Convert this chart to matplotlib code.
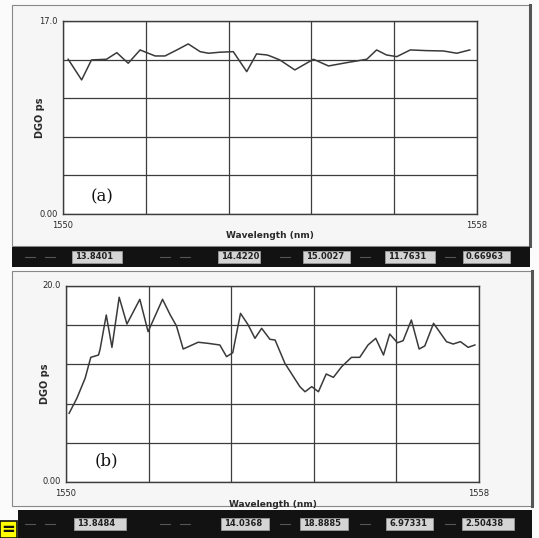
import matplotlib.pyplot as plt
import matplotlib.patches as mpatches
import numpy as np

# --- Data ---
wl_a = [1550.10, 1550.36, 1550.55, 1550.84, 1551.04, 1551.26, 1551.49, 1551.62,
        1551.78, 1551.97, 1552.20, 1552.42, 1552.65, 1552.81, 1553.03, 1553.29,
        1553.55, 1553.74, 1553.94, 1554.00, 1554.19, 1554.48, 1554.84, 1555.13,
        1555.48, 1555.87, 1556.06, 1556.25, 1556.45, 1556.71, 1557.03, 1557.35,
        1557.61, 1557.86]
dgd_a = [13.63, 11.81, 13.57, 13.63, 14.21, 13.28, 14.45, 14.21,
         13.92, 13.92, 14.45, 14.98, 14.30, 14.16, 14.25, 14.30,
         12.54, 14.10, 14.01, 13.92, 13.57, 12.69, 13.63, 13.04,
         13.33, 13.63, 14.45, 14.01, 13.86, 14.45, 14.39, 14.36,
         14.16, 14.45]

wl_b = [1550.06, 1550.21, 1550.37, 1550.48, 1550.63, 1550.66, 1550.78, 1550.89,
        1551.03, 1551.18, 1551.43, 1551.59, 1551.87, 1552.02, 1552.14, 1552.27,
        1552.56, 1552.75, 1552.98, 1553.11, 1553.23, 1553.38, 1553.53, 1553.66,
        1553.79, 1553.95, 1554.05, 1554.24, 1554.53, 1554.63, 1554.76, 1554.89,
        1555.04, 1555.18, 1555.34, 1555.53, 1555.69, 1555.85, 1556.00, 1556.15,
        1556.27, 1556.42, 1556.53, 1556.69, 1556.84, 1556.95, 1557.12, 1557.37,
        1557.50, 1557.64, 1557.79, 1557.92]
dgd_b = [7.01, 8.54, 10.58, 12.72, 12.96, 13.54, 17.04, 13.74,
         18.85, 16.12, 18.64, 15.34, 18.64, 17.04, 15.92, 13.57,
         14.26, 14.15, 13.98, 12.79, 13.19, 17.21, 16.02, 14.66,
         15.68, 14.56, 14.49, 12.11, 9.73, 9.21, 9.73, 9.21,
         11.02, 10.68, 11.77, 12.72, 12.72, 13.98, 14.66, 12.96,
         15.10, 14.21, 14.42, 16.53, 13.57, 13.88, 16.19, 14.32,
         14.08, 14.32, 13.74, 13.98]

ymax_a, ymax_b = 17.0, 20.0
ylabels_a = ['17.0', '0.00']
ylabels_b = ['20.0', '0.00']
xlabels = ['1550', '1558']
stats_a = ['13.8401', '14.4220', '15.0027', '11.7631', '0.66963']
stats_b = ['13.8484', '14.0368', '18.8885', '6.97331', '2.50438']

W, H = 539, 538


def px(l, t, r, b):
    return [l / W, 1 - b / H, (r - l) / W, (b - t) / H]


fig = plt.figure(figsize=(W / 100, H / 100), dpi=100)
fig.patch.set_facecolor('#fbfbfb')

ink = '#2a2a2a'


def frame(l, t, r, b):
    fig.patches.append(mpatches.Rectangle((l / W, 1 - b / H), (r - l) / W, (b - t) / H,
                                          transform=fig.transFigure, facecolor='#f6f6f6',
                                          edgecolor='#888888', lw=0.8, zorder=-5))
    # thick right edge
    fig.add_artist(plt.Line2D([r / W, r / W], [1 - b / H, 1 - t / H],
                              transform=fig.transFigure, color='#555555', lw=2.2, zorder=-4))


def status_bar(l, t, r, b, values, boxes):
    fig.patches.append(mpatches.Rectangle((l / W, 1 - b / H), (r - l) / W, (b - t) / H,
                                          transform=fig.transFigure, facecolor='#121212',
                                          edgecolor='none', zorder=1))
    yc = (t + b) / 2
    for (bl, br), v in zip(boxes, values):
        fig.patches.append(mpatches.Rectangle((bl / W, 1 - (yc + 6) / H), (br - bl) / W, 12 / H,
                                              transform=fig.transFigure, facecolor='#d4d4d4',
                                              edgecolor='#9a9a9a', lw=0.6, zorder=2))
        fig.text((bl + 3) / W, 1 - yc / H, v, fontsize=6, fontweight='bold', color='#202020',
                 va='center', ha='left', zorder=3)
    # faint icons/labels between boxes
    for x0 in [25, 45, 160, 180, 280, 360, 445]:
        fig.add_artist(plt.Line2D([x0 / W, (x0 + 10) / W], [1 - yc / H, 1 - yc / H],
                                  transform=fig.transFigure, color='#555555', lw=0.8, zorder=2))


def panel(rect, wl, dgd, ymax, ylabels, tag, tag_xy, ylab_x):
    ax = fig.add_axes(px(*rect))
    ax.set_zorder(2)
    ax.set_facecolor('#ffffff')
    ax.plot(wl, dgd, color='#3a3a3a', lw=1.1, zorder=3)
    ax.set_xlim(1550, 1558)
    ax.set_ylim(0, ymax)
    ax.set_xticks(np.linspace(1550, 1558, 6))
    ax.set_yticks(np.linspace(0, ymax, 6))
    ax.grid(True, color='#3c3c3c', lw=0.9)
    ax.tick_params(length=0, labelbottom=False, labelleft=False)
    for s in ax.spines.values():
        s.set_color('#3c3c3c')
        s.set_linewidth(1.0)
    ax.text(-0.012, 1.0, ylabels[0], transform=ax.transAxes, ha='right', va='center',
            fontsize=6, color=ink)
    ax.text(-0.012, 0.0, ylabels[1], transform=ax.transAxes, ha='right', va='center',
            fontsize=6, color=ink)
    ax.text(0.0, -0.035, xlabels[0], transform=ax.transAxes, ha='center', va='top',
            fontsize=6, color=ink)
    ax.text(1.0, -0.035, xlabels[1], transform=ax.transAxes, ha='center', va='top',
            fontsize=6, color=ink)
    ax.text(0.5, -0.09, 'Wavelength (nm)', transform=ax.transAxes, ha='center', va='top',
            fontsize=6.5, fontweight='bold', color=ink)
    ax.text(ylab_x, 0.5, 'DGO ps', transform=ax.transAxes, ha='center', va='center',
            rotation=90, fontsize=7, fontweight='bold', color=ink)
    ax.text(tag_xy[0], tag_xy[1], tag, transform=ax.transAxes, ha='center', va='center',
            fontsize=12, family='DejaVu Serif', color='#111111')
    return ax


# panel (a)
frame(12, 5, 530, 246)
panel((63, 21, 477, 214), wl_a, dgd_a, ymax_a, ylabels_a, '(a)', (0.095, 0.09), -0.055)
status_bar(12, 247, 530, 267, stats_a,
           [(72, 122), (218, 260), (303, 350), (385, 435), (463, 510)])

# panel (b)
frame(12, 271, 532, 506)
panel((66, 286, 479, 482), wl_b, dgd_b, ymax_b, ylabels_b, '(b)', (0.097, 0.107), -0.05)
status_bar(18, 510, 532, 538, stats_b,
           [(74, 126), (221, 269), (300, 348), (386, 433), (462, 514)])

# yellow highlight marker in the bottom-left corner
fig.patches.append(mpatches.Rectangle((0, 0), 17 / W, 17 / H, transform=fig.transFigure,
                                      facecolor='#ffff00', edgecolor='#111111', lw=1.2, zorder=4))
fig.text(8.5 / W, 8.5 / H, '=', fontsize=12, fontweight='bold', ha='center', va='center',
         color='#111111', zorder=5)

fig.savefig('out.png', dpi=100)
